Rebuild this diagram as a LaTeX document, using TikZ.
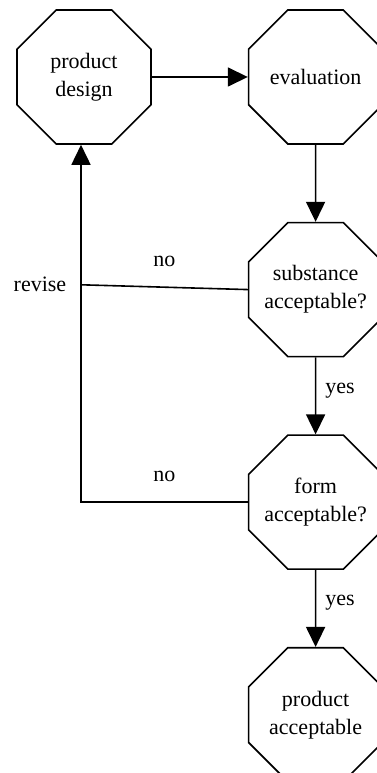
\documentclass[tikz,border=0pt]{standalone}
\usepackage{fontspec}
\setmainfont{Liberation Serif}
\usetikzlibrary{shapes.geometric,arrows.meta,positioning,calc}

\begin{document}
\begin{tikzpicture}[>={Triangle[length=20pt,width=19pt]}, line width=1.6pt, x=1pt, y=1pt]

    \tikzstyle{stage} = [regular polygon, regular polygon sides=8, minimum size=145pt, inner sep=-12pt, align=center, draw=black, font=\fontsize{22}{28}\selectfont]
    \tikzstyle{lbl}   = [inner sep=2pt, font=\fontsize{22}{28}\selectfont]

    \useasboundingbox (0,0) rectangle (377,-773);
    \clip (0,0) rectangle (377,-773);

    \node (design)  [stage] at (84,-77)             {product\\design};
    \node (eval)    [stage, right=96pt of design]   {evaluation};
    \node (subst)   [stage, below=77pt of eval]     {substance\\acceptable?};
    \node (form)    [stage, below=77pt of subst]    {form\\acceptable?};
    \node (done)    [stage, below=77pt of form]     {product\\acceptable};

    \coordinate (back)   at ($(design.south)+(-3,0)$);
    \coordinate (revise) at ($(back)+(0,-140)$);
    \node (revlabel) [lbl, left=12pt of revise]     {revise};

    \draw[->]  (design)      --                                          (eval);
    \draw[->]  (eval)        --                                          (subst);
    \draw[->]  (subst)       --  node [lbl, right=7pt, pos=0.43] {yes}   (form);
    \draw[->]  (form)        --  node [lbl, right=7pt, pos=0.43] {yes}   (done);

    \draw      (subst.west)  --  node [lbl, above=17.5pt]        {no}    (revise);
    \draw[->]  (form.west)   -|  node [lbl, above=17.5pt, pos=0.25] {no} (back);

\end{tikzpicture}
\end{document}
